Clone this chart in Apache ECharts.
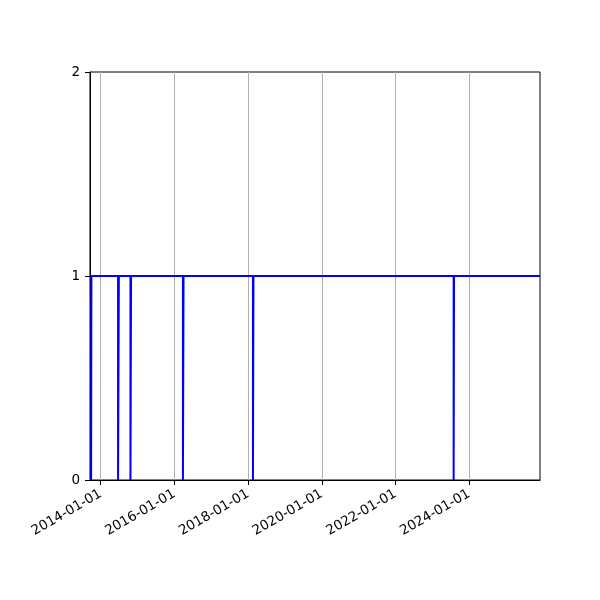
<!DOCTYPE html>
<html>
<head>
<meta charset="utf-8">
<script src="https://cdn.jsdelivr.net/npm/echarts@6/dist/echarts.min.js"></script>
<style>
  html, body { margin: 0; padding: 0; background: #fff; }
  #main { width: 600px; height: 600px; }
</style>
</head>
<body>
<div id="main"></div>
<script>
	// step data: value holds until next date
	var stepDates = ['2013-09-28', '2013-10-01', '2014-06-22', '2014-06-30', '2014-10-23', '2014-10-29',
		'2016-03-26', '2016-04-01', '2018-02-18', '2018-02-23', '2023-07-31', '2023-08-04', '2025-12-03'];
	var stepValues = [0, 1, 0, 1, 0, 1, 0, 1, 0, 1, 0, 1, 1];

	var xTickDates = ['2014-01-01', '2016-01-01', '2018-01-01', '2020-01-01', '2022-01-01', '2024-01-01'];
	var yTicks = [0, 1, 2];

	var xMin = '2013-09-17';
	var xMax = '2025-12-03';

	//日期转毫秒
	function ms(d) {
		return Date.parse(d + 'T00:00:00Z');
	}
	function fmt(v) {
		var d = new Date(v);
		var m = d.getUTCMonth() + 1, day = d.getUTCDate();
		return d.getUTCFullYear() + '-' + (m < 10 ? '0' + m : m) + '-' + (day < 10 ? '0' + day : day);
	}

	var pts = [];
	for (var i = 0; i < stepDates.length; i++) {
		pts.push([ms(stepDates[i]), stepValues[i]]);
	}
	var xTicks = xTickDates.map(ms);

	var font = 'DejaVu Sans';
	var myChart = echarts.init(document.getElementById('main'), null, {renderer: 'canvas'});
	var option = {
		animation: false,
		backgroundColor: '#fff',
		grid: {
			left: 90, right: 60, top: 72, bottom: 120,
			show: true, borderColor: '#000', borderWidth: 1, backgroundColor: 'transparent'
		},
		xAxis: {
			type: 'value',
			min: ms(xMin),
			max: ms(xMax),
			axisLine: {show: true, lineStyle: {color: '#000', width: 1}},
			axisTick: {show: true, length: 5, lineStyle: {color: '#000'}, customValues: xTicks},
			axisLabel: {
				customValues: xTicks,
				rotate: 30,
				margin: 13,
				color: '#000',
				fontFamily: font,
				fontSize: 13.5,
				formatter: fmt
			},
			splitLine: {show: true, lineStyle: {color: '#b0b0b0', width: 1}}
		},
		yAxis: {
			type: 'value',
			min: yTicks[0],
			max: yTicks[yTicks.length - 1],
			interval: 1,
			axisLine: {show: true, lineStyle: {color: '#000', width: 1}},
			axisTick: {show: true, length: 5, lineStyle: {color: '#000'}},
			axisLabel: {color: '#000', fontFamily: font, fontSize: 13.5, margin: 10},
			splitLine: {show: false}
		},
		series: [
			{
				type: 'line',
				step: 'end',
				data: pts,
				showSymbol: false,
				symbol: 'none',
				lineStyle: {color: '#0000ff', width: 2},
				z: 3
			}
		]
	};
	myChart.setOption(option);
</script>
</body>
</html>
